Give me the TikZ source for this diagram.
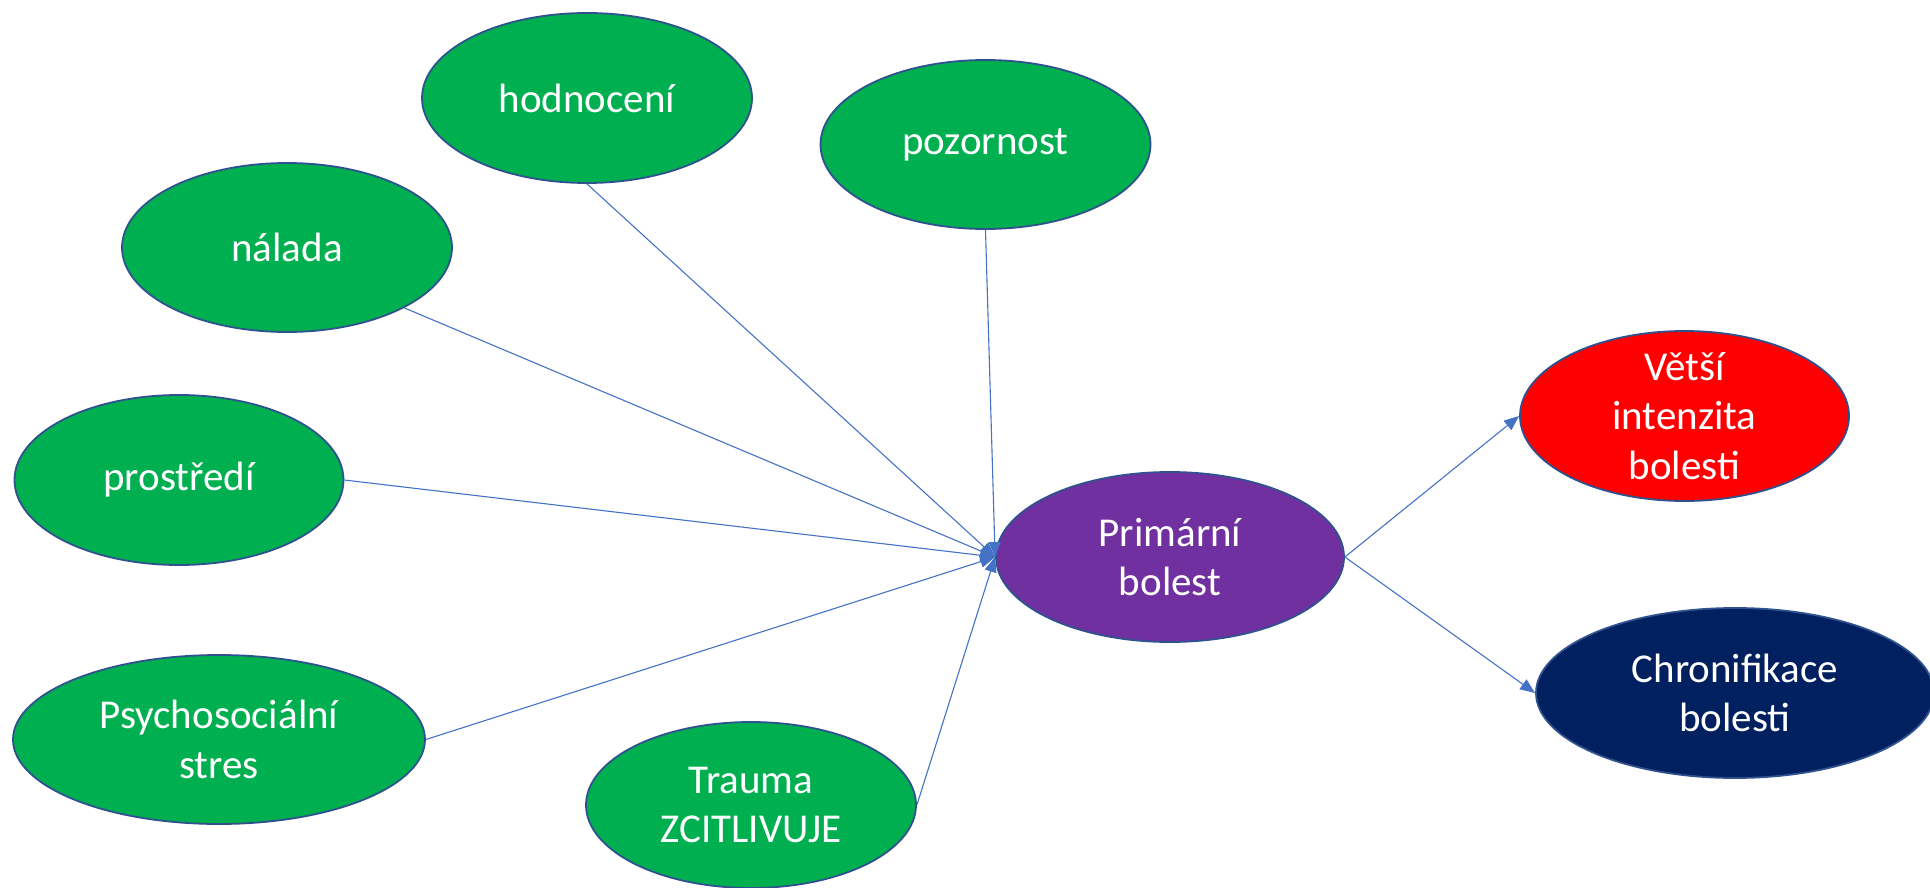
\documentclass[tikz,border=0pt]{standalone}
\usepackage{fontspec}
\setmainfont{Carlito}
\usetikzlibrary{shapes.geometric,arrows.meta}
\definecolor{cgreen}{HTML}{00B050}
\definecolor{cpurple}{HTML}{7030A0}
\definecolor{cred}{HTML}{FF0000}
\definecolor{cnavy}{HTML}{002060}
\definecolor{cedge}{HTML}{2F528F}
\definecolor{cline}{HTML}{4472C4}
\tikzset{
  ell/.style={ellipse, draw=cedge, line width=1.8pt, inner sep=0pt},
  txt/.style={text=white, align=center, font=\fontsize{41}{49.5}\selectfont, inner sep=0pt},
  conn/.style={draw=cline, line width=1.1pt, -{Triangle[length=15pt,width=12pt]}}
}
\begin{document}
\begin{tikzpicture}[x=1pt,y=-1pt]
\useasboundingbox (0,0) rectangle (1930,888);
% ellipses
\node[ell, fill=cgreen, minimum width=330pt, minimum height=170pt] (hod) at (587,98) {};
\node[ell, fill=cgreen, minimum width=330pt, minimum height=169pt] (poz) at (985.5,144.5) {};
\node[ell, fill=cgreen, minimum width=330pt, minimum height=169pt] (nal) at (287,247.5) {};
\node[ell, fill=cgreen, minimum width=329pt, minimum height=170pt] (pro) at (179,480) {};
\node[ell, fill=cgreen, minimum width=412pt, minimum height=169pt] (psy) at (219,739.5) {};
\node[ell, fill=cgreen, minimum width=330pt, minimum height=166pt] (tra) at (751,805) {};
\node[ell, fill=cpurple, minimum width=348pt, minimum height=170pt] (pri) at (1170,557) {};
\node[ell, fill=cred, minimum width=329pt, minimum height=170pt] (vet) at (1684.5,416) {};
\node[ell, fill=cnavy, minimum width=398pt, minimum height=170pt] (chr) at (1735,693) {};
% texts
\node[txt] (thod) at (hod.center) {hodnocení};
\node[txt] (tpoz) at (poz.center) {pozornost};
\node[txt] (tnal) at (nal.center) {nálada};
\node[txt] (tpro) at (pro.center) {prostředí};
\node[txt] (tpsy) at (psy.center) {Psychosociální\\stres};
\node[txt] (ttra) at (tra.center) {Trauma\\ZCITLIVUJE};
\node[txt] (tpri) at (pri.center) {Primární\\bolest};
\node[txt] (tvet) at (vet.center) {Větší\\intenzita\\bolesti};
\node[txt] (tchr) at (chr.center) {Chronifikace\\bolesti};
% connectors
\draw[conn] (hod.south) -- (pri.west);
\draw[conn] (poz.south) -- (pri.west);
\draw[conn] (nal.south east) -- (pri.west);
\draw[conn] (pro.east) -- (pri.west);
\draw[conn] (psy.east) -- (pri.west);
\draw[conn] (tra.east) -- (pri.west);
\draw[conn] (pri.east) -- (vet.west);
\draw[conn] (pri.east) -- (chr.west);
\end{tikzpicture}
\end{document}
